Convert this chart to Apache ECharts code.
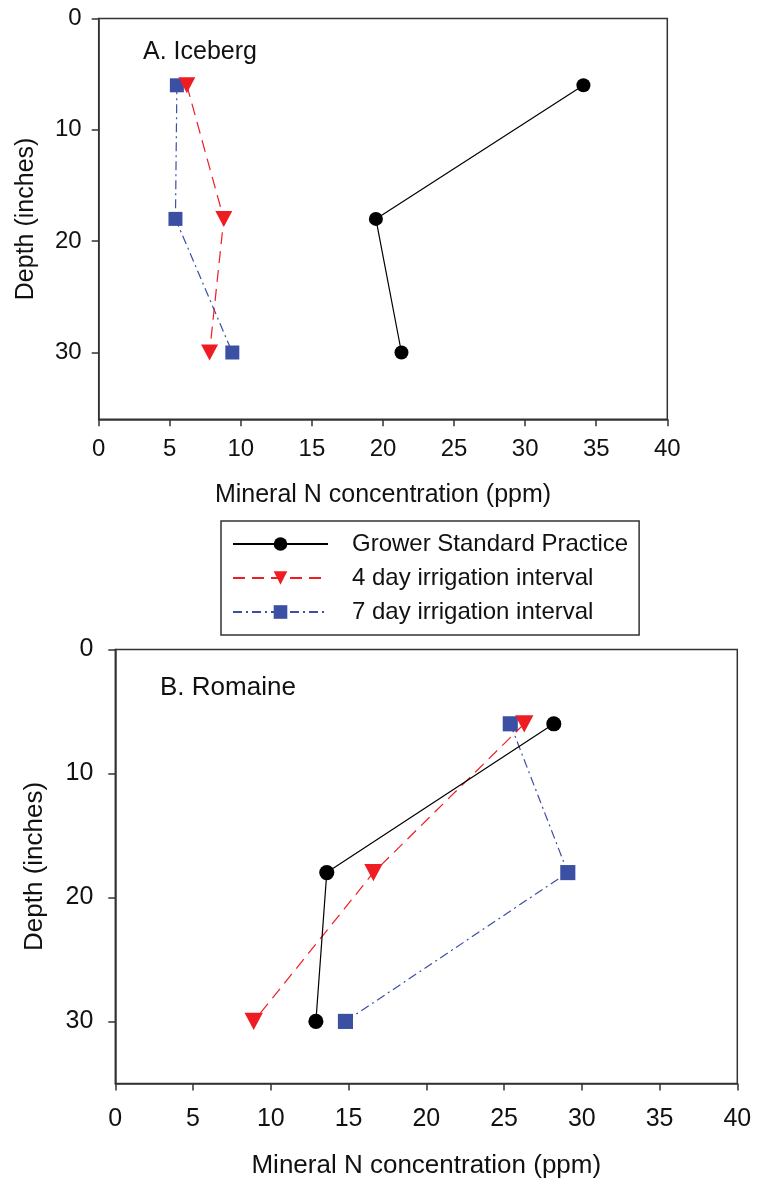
<!DOCTYPE html>
<html>
<head>
<meta charset="utf-8">
<script src="https://cdn.jsdelivr.net/npm/echarts@6/dist/echarts.min.js"></script>
<style>
  html, body { margin: 0; padding: 0; background: #fff; }
  #chart { width: 757px; height: 1186px; }
</style>
</head>
<body>
<div id="chart"></div>
<script>
// depth of each sampling layer (inches)
var depths = [6, 18, 30];

// A. Iceberg, mineral N (ppm)
var icebergGrower = [34.1, 19.5, 21.3];
var iceberg4day = [6.2, 8.8, 7.8];
var iceberg7day = [5.5, 5.4, 9.4];

// B. Romaine, mineral N (ppm)
var romaineGrower = [28.2, 13.6, 12.9];
var romaine4day = [26.3, 16.6, 8.9];
var romaine7day = [25.4, 29.1, 14.8];

var seriesNames = ['Grower Standard Practice', '4 day irrigation interval', '7 day irrigation interval'];
var xTicks = [0, 5, 10, 15, 20, 25, 30, 35, 40];
var yTicks = [0, 10, 20, 30];

var FONT = 'Liberation Sans, Arial, sans-serif';
var AXIS_COLOR = '#333';

var chart = echarts.init(document.getElementById('chart'));

function pairs(xs) {
    return xs.map(function (v, i) { return [v, depths[i]]; });
}

function xAxisFor(idx, fs, labelGap, gap) {
    return {
        type: 'value', gridIndex: idx, min: 0, max: 40, interval: 5,
        name: 'Mineral N concentration (ppm)', nameLocation: 'middle', nameGap: gap,
        nameTextStyle: { fontFamily: FONT, fontSize: fs + 1, color: '#111' },
        axisLine: { onZero: false, lineStyle: { color: AXIS_COLOR, width: 1.5 } },
        axisTick: { length: 7, lineStyle: { color: AXIS_COLOR, width: 1.5 } },
        axisLabel: { margin: labelGap, fontFamily: FONT, fontSize: fs, color: '#111',
            customValues: xTicks },
        splitLine: { show: false }
    };
}

function yAxisFor(idx, max, fs, labelGap, gap) {
    return {
        type: 'value', gridIndex: idx, min: 0, max: max, interval: 10, inverse: true,
        name: 'Depth (inches)', nameLocation: 'middle', nameGap: gap,
        nameTextStyle: { fontFamily: FONT, fontSize: fs + 1, color: '#111' },
        axisLine: { onZero: false, lineStyle: { color: AXIS_COLOR, width: 1.5 } },
        axisTick: { length: 7, lineStyle: { color: AXIS_COLOR, width: 1.5 }, customValues: yTicks },
        axisLabel: { margin: labelGap, fontFamily: FONT, fontSize: fs, color: '#111', customValues: yTicks },
        splitLine: { show: false }
    };
}

var styles = [
    { color: '#000000', symbol: 'circle', size: 14, line: 'solid' },
    { color: '#ee1d24', symbol: 'path://M0,0 L10,0 L5,9 Z', size: [17, 16], line: [12, 7] },
    { color: '#3b4fa3', symbol: 'rect', size: 14, line: [9, 4, 2, 4] }
];

function seriesFor(idx, sets, scale) {
    return sets.map(function (xs, k) {
        var s = styles[k];
        var size = Array.isArray(s.size)
            ? s.size.map(function (v) { return v * scale; })
            : s.size * scale;
        return {
            name: seriesNames[k], type: 'line', xAxisIndex: idx, yAxisIndex: idx,
            data: pairs(xs), symbol: s.symbol, symbolSize: size,
            itemStyle: { color: s.color },
            lineStyle: { color: s.color, width: 1.2, type: s.line },
            z: 3 - k
        };
    });
}

var option = {
    backgroundColor: '#fff',
    animation: false,
    title: [
        { text: 'A. Iceberg', left: 143, top: 40, padding: 0,
          textStyle: { fontFamily: FONT, fontSize: 25, fontWeight: 'normal', color: '#111' } },
        { text: 'B. Romaine', left: 160, top: 675, padding: 0,
          textStyle: { fontFamily: FONT, fontSize: 26, fontWeight: 'normal', color: '#111' } }
    ],
    legend: {
        data: seriesNames, orient: 'vertical', left: 221, top: 521,
        padding: [11, 11, 11, 11], itemGap: 10, itemWidth: 95, itemHeight: 17,
        borderColor: '#333', borderWidth: 1.5,
        textStyle: { fontFamily: FONT, fontSize: 24, color: '#111', padding: [0, 0, 0, 19] }
    },
    grid: [
        { left: 98.7, top: 18.5, width: 568.6, height: 400.8, show: true, borderColor: AXIS_COLOR, borderWidth: 1.5 },
        { left: 115.3, top: 649.4, width: 622, height: 434, show: true, borderColor: AXIS_COLOR, borderWidth: 1.5 }
    ],
    xAxis: [xAxisFor(0, 24, 18, 63), xAxisFor(1, 25, 23, 69)],
    yAxis: [yAxisFor(0, 36, 24, 17, 60), yAxisFor(1, 35, 25, 22, 67)],
    series: seriesFor(0, [icebergGrower, iceberg4day, iceberg7day], 1)
        .concat(seriesFor(1, [romaineGrower, romaine4day, romaine7day], 1.08))
};

chart.setOption(option);
</script>
</body>
</html>
